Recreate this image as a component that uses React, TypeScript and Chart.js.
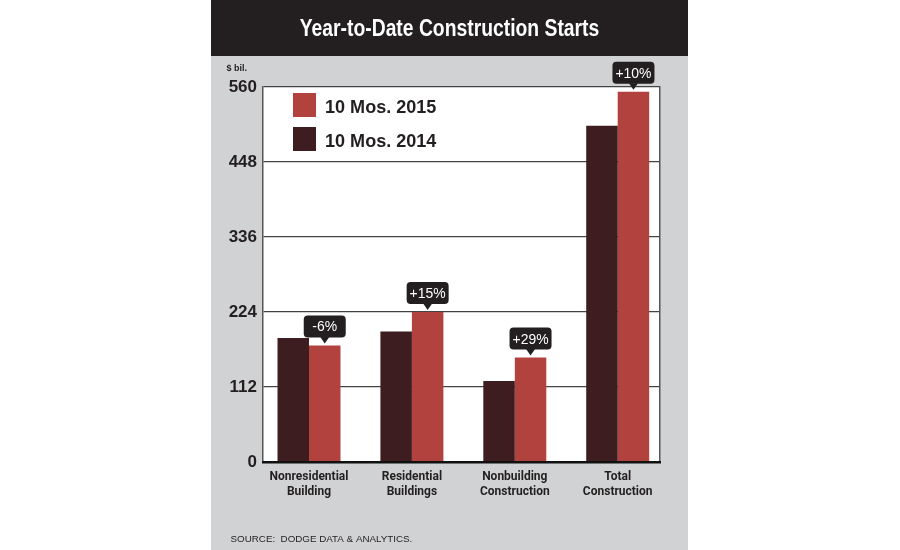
import React, { useEffect, useRef } from 'react';
import { Chart, registerables } from 'chart.js';

Chart.register(...registerables);

// Year-to-date construction starts, $ billions
const categories: string[][] = [
  ['Nonresidential', 'Building'],
  ['Residential', 'Buildings'],
  ['Nonbuilding', 'Construction'],
  ['Total', 'Construction'],
];
const mos2014 = [185, 195, 121, 502];
const mos2015 = [174, 224, 156, 553];
const seriesNames = ['10 Mos. 2014', '10 Mos. 2015'];
const yTickValues = [0, 112, 224, 336, 448, 560];

const chartTitle = 'Year-to-Date Construction Starts';
const unitLabel = '$ bil.';
const sourceNote = 'SOURCE:  DODGE DATA & ANALYTICS.';

// percent change 2015 vs 2014, shown in the callouts
const pctChange = mos2015.map((v, i) => {
  const p = Math.round(((v - mos2014[i]) / mos2014[i]) * 100);
  return (p > 0 ? '+' : '') + p + '%';
});

const INK = '#231f20';
const PANEL = '#d1d2d4';
const RED = '#b2423e';
const MAROON = '#3d1d20';
const SANS = '"Liberation Sans", Arial, sans-serif';
const TIGHT = 'Roboto, "Liberation Sans", sans-serif';

// draws text squeezed horizontally to a condensed look
function condensedText(ctx: CanvasRenderingContext2D, text: string, x: number, y: number, sx: number) {
  ctx.save();
  ctx.translate(x, y);
  ctx.scale(sx, 1);
  ctx.fillText(text, 0, 0);
  ctx.restore();
}

const decor = {
  id: 'decor',
  beforeDraw(chart: any) {
    const { ctx, width, height, chartArea: a } = chart;
    ctx.save();
    ctx.fillStyle = PANEL;
    ctx.fillRect(0, 0, width, height);
    ctx.fillStyle = INK;
    ctx.fillRect(0, 0, width, 56);
    ctx.fillStyle = '#ffffff';
    ctx.fillRect(a.left, a.top, a.right - a.left, a.bottom - a.top);
    ctx.restore();
  },
  afterDraw(chart: any) {
    const { ctx, width, chartArea: a } = chart;
    ctx.save();

    // heading
    ctx.fillStyle = '#ffffff';
    ctx.font = `bold 23px ${SANS}`;
    ctx.textAlign = 'center';
    ctx.textBaseline = 'alphabetic';
    condensedText(ctx, chartTitle, width / 2, 36, 0.84);

    // unit
    ctx.fillStyle = INK;
    ctx.font = `bold 9px ${SANS}`;
    ctx.textAlign = 'left';
    ctx.fillText(unitLabel, 15.5, 71);

    // legend (latest period first)
    const sets = chart.data.datasets.slice().reverse();
    sets.forEach((ds: any, i: number) => {
      const top = a.top + 6 + i * 34;
      ctx.fillStyle = ds.backgroundColor;
      ctx.fillRect(a.left + 30, top, 23, 24);
      ctx.fillStyle = INK;
      ctx.font = `bold 19px ${SANS}`;
      condensedText(ctx, ds.label, a.left + 62, top + 20, 0.95);
    });

    // callouts above the 2015 bars
    const meta = chart.getDatasetMeta(1);
    meta.data.forEach((el: any, i: number) => {
      const text = pctChange[i];
      ctx.font = `15px ${SANS}`;
      const w = 42;
      const h = 22;
      const bottom = el.y - 8;
      const top = bottom - h;
      ctx.fillStyle = INK;
      ctx.beginPath();
      ctx.roundRect(el.x - w / 2, top, w, h, 4);
      ctx.fill();
      ctx.beginPath();
      ctx.moveTo(el.x - 4.5, bottom - 0.5);
      ctx.lineTo(el.x, bottom + 6);
      ctx.lineTo(el.x + 4.5, bottom - 0.5);
      ctx.closePath();
      ctx.fill();
      ctx.fillStyle = '#ffffff';
      ctx.textAlign = 'center';
      condensedText(ctx, text, el.x, top + 16, 0.93);
    });

    // source line
    ctx.fillStyle = INK;
    ctx.font = `9.8px ${SANS}`;
    ctx.textAlign = 'left';
    ctx.fillText(sourceNote, 19.5, 542);

    ctx.restore();
  },
};

export default function App() {
  const ref = useRef<HTMLCanvasElement>(null);

  useEffect(() => {
    if (!ref.current) return;
    const chart = new Chart(ref.current, {
      type: 'bar',
      data: {
        datasets: [
          {
            label: seriesNames[0],
            data: mos2014.map((v, i) => ({ x: i, y: v })),
            backgroundColor: MAROON,
            borderWidth: 0,
          },
          {
            label: seriesNames[1],
            data: mos2015.map((v, i) => ({ x: i, y: v })),
            backgroundColor: RED,
            borderWidth: 0,
          },
        ],
      },
      options: {
        responsive: false,
        animation: false,
        events: [],
        datasets: { bar: { categoryPercentage: 0.612, barPercentage: 1 } },
        layout: { padding: { top: 87, right: 28, bottom: 38, left: 0 } },
        plugins: { legend: { display: false }, tooltip: { enabled: false }, title: { display: false } },
        scales: {
          x: {
            type: 'linear',
            min: -0.447,
            max: 3.411,
            offset: false,
            grid: { display: false, offset: false },
            border: { display: true, color: '#111111', width: 2.5, z: 1 },
            afterBuildTicks: (scale: any) => {
              scale.ticks = categories.map((_, i) => ({ value: i }));
            },
            afterFit: (scale: any) => {
              scale.height = 50;
            },
            ticks: {
              autoSkip: false,
              maxRotation: 0,
              padding: -1,
              color: INK,
              font: { family: TIGHT, size: 12, weight: 'bold', lineHeight: 1.25 },
              callback: (v: any) => categories[Math.round(Number(v))] ?? '',
            },
          },
          y: {
            type: 'linear',
            min: 0,
            max: 560,
            afterBuildTicks: (scale: any) => {
              scale.ticks = yTickValues.map((v) => ({ value: v }));
            },
            afterFit: (scale: any) => {
              scale.width = 52;
            },
            grid: { color: '#444444', lineWidth: 1.2, drawTicks: false },
            border: { display: true, color: '#555555', width: 1.5 },
            ticks: {
              padding: 6,
              color: INK,
              font: { family: SANS, size: 17, weight: 'bold' },
            },
          },
          yRight: {
            type: 'linear',
            position: 'right',
            grid: { display: false },
            ticks: { display: false },
            border: { display: true, color: '#555555', width: 1.5 },
            afterFit: (scale: any) => {
              scale.width = 0;
            },
          },
        },
      },
      plugins: [decor],
    } as any);
    return () => chart.destroy();
  }, []);

  return (
    <div style={{ position: 'fixed', left: 0, top: 0, width: 900, height: 550, background: '#ffffff' }}>
      <canvas
        ref={ref}
        width={477}
        height={550}
        style={{ position: 'absolute', left: 211, top: 0, width: 477, height: 550 }}
      />
    </div>
  );
}
